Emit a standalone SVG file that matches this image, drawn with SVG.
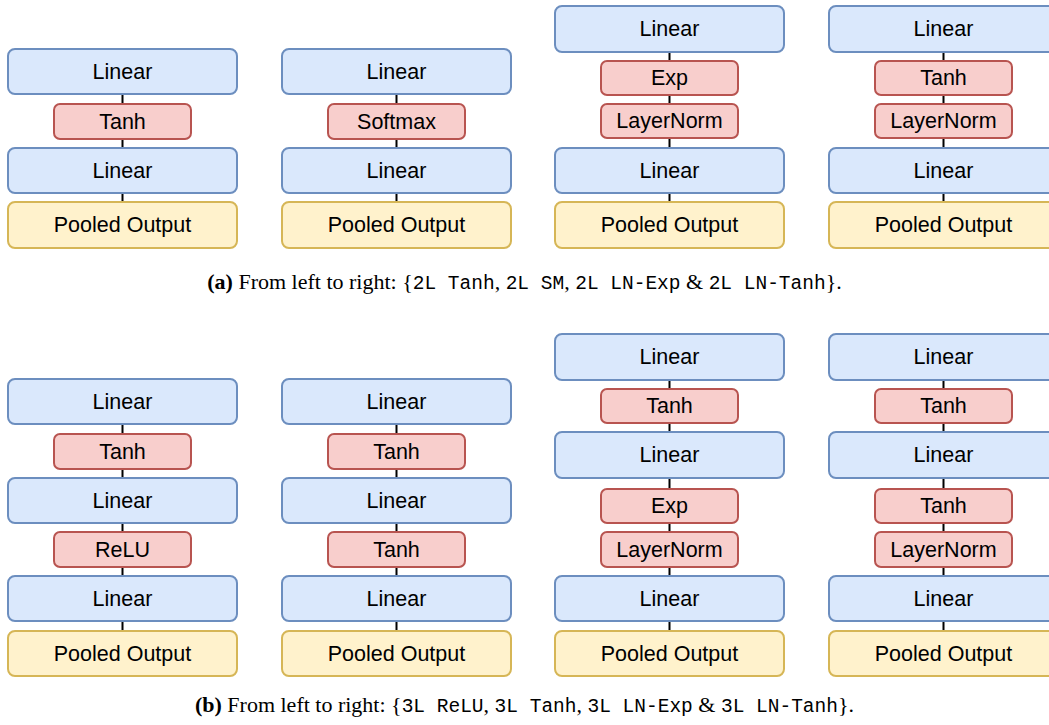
<svg xmlns="http://www.w3.org/2000/svg" width="1049" height="725" viewBox="0 0 1049 725">
<style>
.b{fill:#dae8fc;stroke:#6c8ebf;stroke-width:2}
.r{fill:#f8cecc;stroke:#b85450;stroke-width:2}
.y{fill:#fff2cc;stroke:#d6b656;stroke-width:2}
.t{font-family:"Liberation Sans",Arial,sans-serif;font-size:21.5px;fill:#000;text-anchor:middle;dominant-baseline:central}
.c{font-family:"Liberation Serif","Times New Roman",serif;font-size:22px;fill:#000;text-anchor:middle}
.m{font-family:"Liberation Mono","Courier New",monospace;font-size:19.5px}
.e{stroke:#000;stroke-width:2;fill:none}
</style>
<rect width="1049" height="725" fill="#fff"/>
<g id="connectors">
<path class="e" d="M122.5 94V202M396.5 94V202M669.5 52V202M943.5 52V202"/>
<path class="e" d="M122.5 424V631M396.5 424V631M669.5 380V631M943.5 380V631"/>
</g>
<!-- panel a, col 1 -->
<g id="a1-linear1"><rect class="b" x="8" y="49" width="229" height="45" rx="7"/><text class="t" x="122.5" y="71.5">Linear</text></g>
<g id="a1-tanh"><rect class="r" x="54" y="104" width="137" height="35" rx="6"/><text class="t" x="122.5" y="121.5">Tanh</text></g>
<g id="a1-linear2"><rect class="b" x="8" y="148" width="229" height="45" rx="7"/><text class="t" x="122.5" y="170.5">Linear</text></g>
<g id="a1-pooled"><rect class="y" x="8" y="202" width="229" height="46" rx="7"/><text class="t" x="122.5" y="225">Pooled Output</text></g>
<!-- panel a, col 2 -->
<g id="a2-linear1"><rect class="b" x="282" y="49" width="229" height="45" rx="7"/><text class="t" x="396.5" y="71.5">Linear</text></g>
<g id="a2-softmax"><rect class="r" x="328" y="104" width="137" height="35" rx="6"/><text class="t" x="396.5" y="121.5">Softmax</text></g>
<g id="a2-linear2"><rect class="b" x="282" y="148" width="229" height="45" rx="7"/><text class="t" x="396.5" y="170.5">Linear</text></g>
<g id="a2-pooled"><rect class="y" x="282" y="202" width="229" height="46" rx="7"/><text class="t" x="396.5" y="225">Pooled Output</text></g>
<!-- panel a, col 3 -->
<g id="a3-linear1"><rect class="b" x="555" y="6" width="229" height="46" rx="7"/><text class="t" x="669.5" y="29">Linear</text></g>
<g id="a3-exp"><rect class="r" x="601" y="61" width="137" height="34" rx="6"/><text class="t" x="669.5" y="78">Exp</text></g>
<g id="a3-ln"><rect class="r" x="601" y="104" width="137" height="34" rx="6"/><text class="t" x="669.5" y="121">LayerNorm</text></g>
<g id="a3-linear2"><rect class="b" x="555" y="148" width="229" height="45" rx="7"/><text class="t" x="669.5" y="170.5">Linear</text></g>
<g id="a3-pooled"><rect class="y" x="555" y="202" width="229" height="46" rx="7"/><text class="t" x="669.5" y="225">Pooled Output</text></g>
<!-- panel a, col 4 -->
<g id="a4-linear1"><rect class="b" x="829" y="6" width="229" height="46" rx="7"/><text class="t" x="943.5" y="29">Linear</text></g>
<g id="a4-tanh"><rect class="r" x="875" y="61" width="137" height="34" rx="6"/><text class="t" x="943.5" y="78">Tanh</text></g>
<g id="a4-ln"><rect class="r" x="875" y="104" width="137" height="34" rx="6"/><text class="t" x="943.5" y="121">LayerNorm</text></g>
<g id="a4-linear2"><rect class="b" x="829" y="148" width="229" height="45" rx="7"/><text class="t" x="943.5" y="170.5">Linear</text></g>
<g id="a4-pooled"><rect class="y" x="829" y="202" width="229" height="46" rx="7"/><text class="t" x="943.5" y="225">Pooled Output</text></g>
<g id="caption-a"><text class="c" x="524.5" y="289"><tspan font-weight="bold">(a)</tspan> From left to right: {<tspan class="m">2L Tanh</tspan>, <tspan class="m">2L SM</tspan>, <tspan class="m">2L LN-Exp</tspan> &amp; <tspan class="m">2L LN-Tanh</tspan>}.</text></g>
<!-- panel b, col 1 -->
<g id="b1-linear1"><rect class="b" x="8" y="379" width="229" height="45" rx="7"/><text class="t" x="122.5" y="401.5">Linear</text></g>
<g id="b1-tanh"><rect class="r" x="54" y="434" width="137" height="35" rx="6"/><text class="t" x="122.5" y="451.5">Tanh</text></g>
<g id="b1-linear2"><rect class="b" x="8" y="478" width="229" height="45" rx="7"/><text class="t" x="122.5" y="500.5">Linear</text></g>
<g id="b1-relu"><rect class="r" x="54" y="532" width="137" height="35" rx="6"/><text class="t" x="122.5" y="549.5">ReLU</text></g>
<g id="b1-linear3"><rect class="b" x="8" y="576" width="229" height="45" rx="7"/><text class="t" x="122.5" y="598.5">Linear</text></g>
<g id="b1-pooled"><rect class="y" x="8" y="631" width="229" height="45" rx="7"/><text class="t" x="122.5" y="653.5">Pooled Output</text></g>
<!-- panel b, col 2 -->
<g id="b2-linear1"><rect class="b" x="282" y="379" width="229" height="45" rx="7"/><text class="t" x="396.5" y="401.5">Linear</text></g>
<g id="b2-tanh1"><rect class="r" x="328" y="434" width="137" height="35" rx="6"/><text class="t" x="396.5" y="451.5">Tanh</text></g>
<g id="b2-linear2"><rect class="b" x="282" y="478" width="229" height="45" rx="7"/><text class="t" x="396.5" y="500.5">Linear</text></g>
<g id="b2-tanh2"><rect class="r" x="328" y="532" width="137" height="35" rx="6"/><text class="t" x="396.5" y="549.5">Tanh</text></g>
<g id="b2-linear3"><rect class="b" x="282" y="576" width="229" height="45" rx="7"/><text class="t" x="396.5" y="598.5">Linear</text></g>
<g id="b2-pooled"><rect class="y" x="282" y="631" width="229" height="45" rx="7"/><text class="t" x="396.5" y="653.5">Pooled Output</text></g>
<!-- panel b, col 3 -->
<g id="b3-linear1"><rect class="b" x="555" y="334" width="229" height="46" rx="7"/><text class="t" x="669.5" y="357">Linear</text></g>
<g id="b3-tanh"><rect class="r" x="601" y="389" width="137" height="34" rx="6"/><text class="t" x="669.5" y="406">Tanh</text></g>
<g id="b3-linear2"><rect class="b" x="555" y="432" width="229" height="46" rx="7"/><text class="t" x="669.5" y="455">Linear</text></g>
<g id="b3-exp"><rect class="r" x="601" y="489" width="137" height="34" rx="6"/><text class="t" x="669.5" y="506">Exp</text></g>
<g id="b3-ln"><rect class="r" x="601" y="532" width="137" height="35" rx="6"/><text class="t" x="669.5" y="549.5">LayerNorm</text></g>
<g id="b3-linear3"><rect class="b" x="555" y="576" width="229" height="45" rx="7"/><text class="t" x="669.5" y="598.5">Linear</text></g>
<g id="b3-pooled"><rect class="y" x="555" y="631" width="229" height="45" rx="7"/><text class="t" x="669.5" y="653.5">Pooled Output</text></g>
<!-- panel b, col 4 -->
<g id="b4-linear1"><rect class="b" x="829" y="334" width="229" height="46" rx="7"/><text class="t" x="943.5" y="357">Linear</text></g>
<g id="b4-tanh1"><rect class="r" x="875" y="389" width="137" height="34" rx="6"/><text class="t" x="943.5" y="406">Tanh</text></g>
<g id="b4-linear2"><rect class="b" x="829" y="432" width="229" height="46" rx="7"/><text class="t" x="943.5" y="455">Linear</text></g>
<g id="b4-tanh2"><rect class="r" x="875" y="489" width="137" height="34" rx="6"/><text class="t" x="943.5" y="506">Tanh</text></g>
<g id="b4-ln"><rect class="r" x="875" y="532" width="137" height="35" rx="6"/><text class="t" x="943.5" y="549.5">LayerNorm</text></g>
<g id="b4-linear3"><rect class="b" x="829" y="576" width="229" height="45" rx="7"/><text class="t" x="943.5" y="598.5">Linear</text></g>
<g id="b4-pooled"><rect class="y" x="829" y="631" width="229" height="45" rx="7"/><text class="t" x="943.5" y="653.5">Pooled Output</text></g>
<g id="caption-b"><text class="c" x="524.5" y="712"><tspan font-weight="bold">(b)</tspan> From left to right: {<tspan class="m">3L ReLU</tspan>, <tspan class="m">3L Tanh</tspan>, <tspan class="m">3L LN-Exp</tspan> &amp; <tspan class="m">3L LN-Tanh</tspan>}.</text></g>
</svg>
